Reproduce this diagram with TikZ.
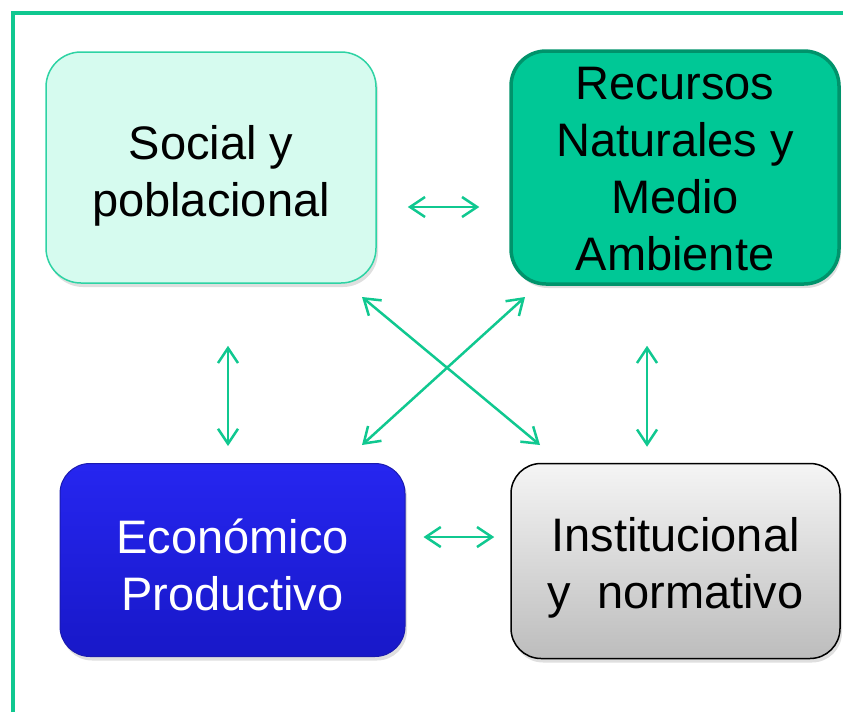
\documentclass[tikz,border=0pt]{standalone}
\usepackage{fontspec}
\setmainfont{Liberation Sans}
\usepackage{tikz}
\usetikzlibrary{arrows.meta,shadows}
\definecolor{verde}{RGB}{16,200,144}
\definecolor{menta}{RGB}{214,251,239}
\definecolor{menteborde}{RGB}{46,211,164}
\definecolor{recfill}{RGB}{0,200,150}
\definecolor{recborde}{RGB}{0,147,107}
\definecolor{azularriba}{RGB}{38,38,240}
\definecolor{azulabajo}{RGB}{24,24,200}
\definecolor{azulborde}{RGB}{26,26,176}
\newcommand{\altura}[1]{\rule{0pt}{#1}}

\begin{document}
\begin{tikzpicture}[x=1pt,y=-1pt,
  caja/.style={rounded corners=35pt,align=center,inner sep=0pt,
    font=\fontsize{47}{57}\selectfont,
    drop shadow={opacity=0.25,shadow xshift=2pt,shadow yshift=-4pt}},
  link/.style={draw=verde,line width=2.5pt,{Straight Barb[length=15pt,width=20pt]}-{Straight Barb[length=15pt,width=20pt]}}]
\useasboundingbox (0,0) rectangle (843,712);
% marco
\draw [verde,line width=4pt] (13,712)--(13,13)--(843,13);
% cajas
\node [caja,draw=menteborde,line width=1.5pt,fill=menta,minimum width=330pt,minimum height=231pt] (soc) at (211,167.5) {\altura{50pt}Social y\\poblacional};
\node [caja,draw=recborde,line width=3.5pt,fill=recfill,minimum width=328pt,minimum height=233pt] (rec) at (675,167.5) {\altura{35pt}Recursos\\Naturales y\\Medio\\Ambiente};
\node [caja,rounded corners=30pt,draw=azulborde,line width=1pt,top color=azularriba,bottom color=azulabajo,text=white,minimum width=345pt,minimum height=193pt] (eco) at (232.5,560) {\altura{44pt}Económico\\Productivo};
\node [caja,rounded corners=30pt,draw=black,line width=1.5pt,top color=white!96!black,bottom color=white!74!black,minimum width=329pt,minimum height=195pt] (ins) at (675.5,561) {\altura{48pt}Institucional\\y~~normativo};
% flechas
\draw [link,shorten <=31pt,shorten >=30pt] ([yshift=-39.5pt]soc.east)--([yshift=-39.5pt]rec.west);
\draw [link,shorten <=18pt,shorten >=16pt] ([yshift=23pt]eco.east)--([yshift=23pt]eco.east -| ins.west);
\draw [link,shorten <=62pt,shorten >=17pt] ([xshift=17pt]soc.south)--([xshift=17pt]soc.south |- eco.north);
\draw [link,shorten <=60pt,shorten >=16pt] ([xshift=-28pt]rec.south)--([xshift=-28pt]rec.south |- ins.north);
\coordinate (d1) at (362,297);
\coordinate (d2) at (540,445);
\coordinate (d3) at (525,297);
\coordinate (d4) at (362,445);
\draw [link] (d1)--(d2);
\draw [link] (d3)--(d4);
\end{tikzpicture}
\end{document}
